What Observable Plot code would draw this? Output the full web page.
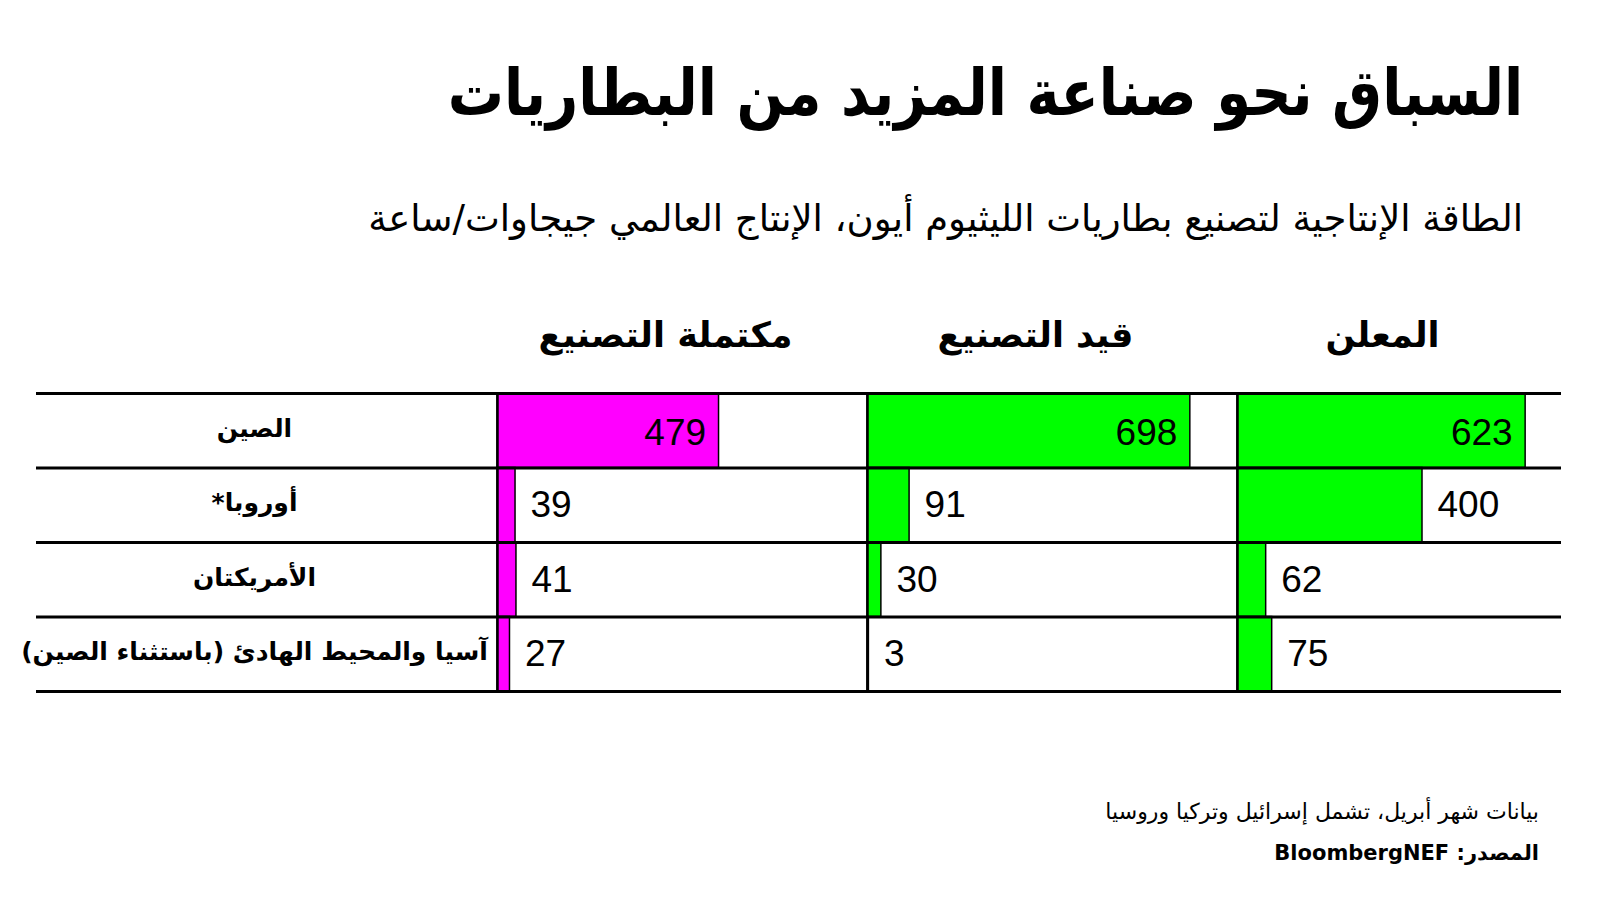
<!DOCTYPE html>
<html lang="ar">
<head>
<meta charset="utf-8">
<script src="https://cdn.jsdelivr.net/npm/d3@7"></script>
<script src="https://cdn.jsdelivr.net/npm/@observablehq/plot@0.6"></script>
<style>
  html, body { margin: 0; padding: 0; background: #fff; }
  body { width: 1600px; height: 901px; position: relative; overflow: hidden; font-family: "DejaVu Sans", sans-serif; color: #000; }
  .t { position: absolute; direction: rtl; white-space: nowrap; line-height: 1; }
  #title { right: 77px; top: 61px; font-size: 64px; font-weight: bold; transform: scaleX(0.875); transform-origin: right center; }
  #subtitle { right: 77px; top: 200px; font-size: 37px; }
  #note { right: 61px; top: 801px; font-size: 22px; }
  #source { right: 61px; top: 843px; font-size: 21px; font-weight: bold; }
  #chart { position: absolute; left: 0; top: 290px; }
</style>
</head>
<body>
<div class="t" id="title">السباق نحو صناعة المزيد من البطاريات</div>
<div class="t" id="subtitle">الطاقة الإنتاجية لتصنيع بطاريات الليثيوم أيون، الإنتاج العالمي جيجاوات/ساعة</div>
<div id="chart"></div>
<div class="t" id="note">بيانات شهر أبريل، تشمل إسرائيل وتركيا وروسيا</div>
<div class="t" id="source">المصدر: BloombergNEF</div>
<script>
// Data
const regions = ["الصين", "أوروبا*", "الأمريكتان", "آسيا والمحيط الهادئ (باستثناء الصين)"];
const stages = ["مكتملة التصنيع", "قيد التصنيع", "المعلن"];
const commissioned = [479, 39, 41, 27];
const underConstruction = [698, 91, 30, 3];
const announced = [623, 400, 62, 75];

const series = [commissioned, underConstruction, announced];
const palette = ["#ff00ff", "#00ff00", "#00ff00"];

const data = [];
stages.forEach((s, j) => series[j].forEach((v, i) => data.push({stage: s, row: i, value: v})));

const rowCenters = d3.range(regions.length).map(i => i + 0.5);
const rowEdges = d3.range(regions.length + 1);
const numFont = "'Liberation Sans', Arial, sans-serif";

const headerStyle = {anchor: "top", tickSize: 0, tickPadding: 47, fontSize: 35, fontWeight: "bold", label: null};

const chart = Plot.plot({
  width: 1561,
  height: 411,
  marginTop: 103,
  marginBottom: 10,
  marginLeft: 497,
  marginRight: 0,
  style: {fontFamily: "'DejaVu Sans', sans-serif", color: "#000", background: "#fff", overflow: "hidden"},
  fx: {domain: stages, range: [497, 1607], padding: 0, axis: null},
  x: {domain: [0, 800], axis: null},
  y: {domain: [0, regions.length], reverse: true, axis: null},
  color: {domain: stages, range: palette},
  marks: [
    Plot.rect(data, {fx: "stage", x1: 0, x2: "value", y1: "row", y2: d => d.row + 1, fill: "stage", stroke: "#000", strokeWidth: 1.5}),
    Plot.ruleX([0], {stroke: "#000", strokeWidth: 2.5}),
    Plot.ruleY(rowEdges, {stroke: "#000", strokeWidth: 3}),
    Plot.text(data.filter(d => d.value > 450), {
      fx: "stage", x: "value", y: d => d.row + 0.5, text: d => String(d.value),
      textAnchor: "end", dx: -13, dy: 2, fontSize: 37, fontFamily: numFont, fill: "#000"
    }),
    Plot.text(data.filter(d => d.value <= 450), {
      fx: "stage", x: "value", y: d => d.row + 0.5, text: d => String(d.value),
      textAnchor: "start", dx: 15, fontSize: 37, fontFamily: numFont, fill: "#000"
    }),
    Plot.axisFx({...headerStyle, ticks: stages.slice(0, 2), dx: -17}),
    Plot.axisFx({...headerStyle, ticks: stages.slice(2), dx: -40}),
    Plot.axisY({
      ticks: rowCenters, tickFormat: v => "\u202B" + regions[Math.floor(v)] + "\u202C",
      tickSize: 0, tickPadding: 243, textAnchor: "middle", fontSize: 25, fontWeight: "bold", label: null, dy: -2
    }),
    Plot.axisY({ticks: rowEdges, tickFormat: () => "", tickSize: 461, stroke: "#000", strokeWidth: 3, label: null})
  ]
});
document.getElementById("chart").appendChild(chart);
</script>
</body>
</html>
